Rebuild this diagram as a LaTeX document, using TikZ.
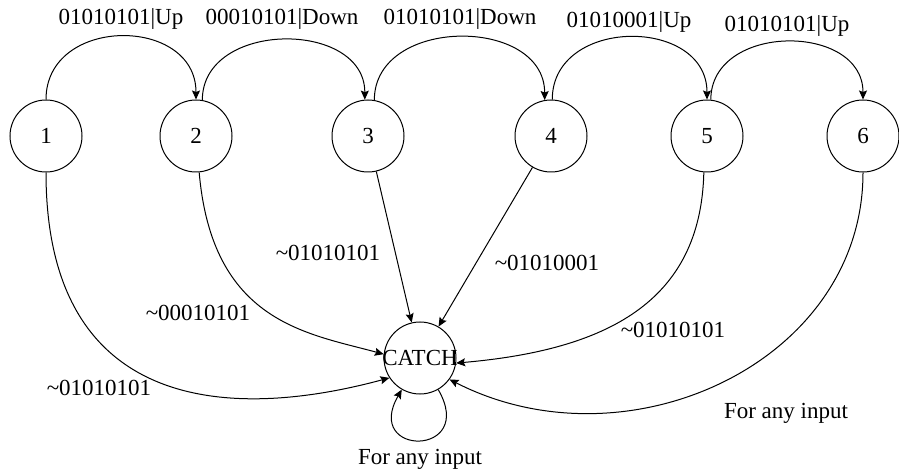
\documentclass[tikz,border=0pt]{standalone}
\usepackage{fontspec}
\setmainfont{Liberation Serif}
\usetikzlibrary{arrows.meta}

\begin{document}
\begin{tikzpicture}[x=1pt,y=1pt,line width=1pt,
    every node/.style={font=\fontsize{23}{27}\selectfont},
    st/.style={draw,circle,minimum size=72pt,inner sep=0pt},
    >={Stealth[length=9pt,width=8pt,inset=1.5pt]}]
    \useasboundingbox (0,0) rectangle (899,474);

    % States
    \node[st] (s1) at (46,338) {1};
    \node[st] (s2) at (196,338) {2};
    \node[st] (s3) at (368,338) {3};
    \node[st] (s4) at (551,338) {4};
    \node[st] (s5) at (707,338) {5};
    \node[st] (s6) at (863,338) {6};
    \node[st,label=center:CATCH] (catch) at (420,116) {};

    % Forward transitions
    \draw[->] (s1.north) .. controls +(0,84) and +(0,84) .. (s2.north);
    \draw[->] (s2.80) .. controls +(0,80) and +(0,80) .. (s3.95);
    \draw[->] (s3.80) .. controls +(0,84) and +(0,84) .. (s4.100);
    \draw[->] (s4.88) .. controls +(0,83) and +(0,83) .. (s5.north);
    \draw[->] (s5.84) .. controls +(0,77) and +(0,77) .. (s6.north);

    \node (t12) at (121,455) {01010101|Up};
    \node (t23) at (282,455) {00010101|Down};
    \node (t34) at (460,455) {01010101|Down};
    \node (t45) at (629,452) {01010001|Up};
    \node (t56) at (787,448) {01010101|Up};

    % Failing transitions
    \draw[->] (s1.south) .. controls +(0,-230) and +(-174,-47) .. (catch.213);
    \draw[->] (s2.-85) .. controls +(13,-150) and +(-77,21) .. (catch.174);
    \draw[->] (s3) -- (catch);
    \draw[->] (s4) -- (catch);
    \draw[->] (s5.-95) .. controls +(-3,-130) and +(150,13) .. (catch.-8);
    \draw[->] (s6.south) .. controls +(0,-190) and +(178,-91) .. (catch.-36);
    \draw[->] (catch.-60) .. controls +(-60:78) and +(-120:78) .. (catch.-120);

    \node (f1) at (99,86) {\textasciitilde01010101};
    \node (f2) at (198,161) {\textasciitilde00010101};
    \node (f3) at (328,221) {\textasciitilde01010101};
    \node (f4) at (547,211) {\textasciitilde01010001};
    \node (f5) at (673,144) {\textasciitilde01010101};
    \node (f6) at (786,61) {For any input};
    \node (fc) at (420,15) {For any input};
\end{tikzpicture}
\end{document}
